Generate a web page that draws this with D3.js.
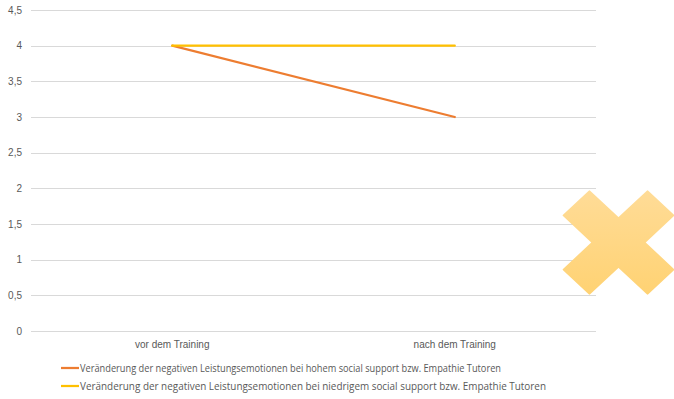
<!DOCTYPE html>
<html>
<head>
<meta charset="utf-8">
<script src="https://cdn.jsdelivr.net/npm/d3@7"></script>
<style>
  body { margin: 0; background: #fff; }
  svg { display: block; font-family: "Open Sans", "Liberation Sans", sans-serif; }
</style>
</head>
<body>
<svg id="chart" width="674" height="399"></svg>
<script>
// Kategorien und Reihen
const categories = ["vor dem Training", "nach dem Training"];
const seriesNames = [
  "Veränderung der negativen Leistungsemotionen bei hohem social support bzw. Empathie Tutoren",
  "Veränderung der negativen Leistungsemotionen bei niedrigem social support bzw. Empathie Tutoren"
];
const hohemValues = [4, 3];
const niedrigemValues = [4, 4];
const yTicks = [0, 0.5, 1, 1.5, 2, 2.5, 3, 3.5, 4, 4.5];
const seriesColors = ["#ED7D31", "#FFC000"];

const series = [
  { name: seriesNames[0], values: hohemValues, color: seriesColors[0] },
  { name: seriesNames[1], values: niedrigemValues, color: seriesColors[1] }
];

const svg = d3.select("#chart");
const plot = { left: 31, right: 596, top: 10, bottom: 331 };

const x = d3.scaleBand().domain(categories).range([plot.left, plot.right]);
const y = d3.scaleLinear().domain([0, 4.5]).range([plot.bottom, plot.top]);
const fmt = d => d3.format("~g")(d).replace(".", ",");

// Gitterlinien
svg.append("g")
  .selectAll("line").data(yTicks).join("line")
  .attr("x1", plot.left).attr("x2", plot.right)
  .attr("y1", d => Math.round(y(d)) + 0.5).attr("y2", d => Math.round(y(d)) + 0.5)
  .attr("stroke", "#d9d9d9").attr("stroke-width", 1);

// Y-Achse
const yAxis = svg.append("g")
  .attr("transform", `translate(${plot.left - 9},0)`)
  .call(d3.axisLeft(y).tickValues(yTicks).tickFormat(fmt).tickSize(0).tickPadding(0));
yAxis.select(".domain").remove();
yAxis.selectAll("text").attr("fill", "#595959").style("font-size", "10px");

// X-Achse
const xAxis = svg.append("g")
  .attr("transform", `translate(0,${plot.bottom + 10})`)
  .call(d3.axisBottom(x).tickSize(0).tickPadding(0));
xAxis.select(".domain").remove();
xAxis.selectAll("text").attr("fill", "#595959").style("font-size", "10px");

// Linien
const line = d3.line()
  .x((d, i) => x(categories[i]) + x.bandwidth() / 2)
  .y(d => y(d));

svg.append("g").selectAll("path").data(series).join("path")
  .attr("d", d => line(d.values))
  .attr("fill", "none")
  .attr("stroke", d => d.color)
  .attr("stroke-width", 2.25)
  .attr("stroke-linecap", "round");

// Legende
const legend = svg.append("g").selectAll("g").data(series).join("g")
  .attr("transform", (d, i) => `translate(61,${368 + i * 18})`);
legend.append("line")
  .attr("x1", 0).attr("x2", 18).attr("y1", 0).attr("y2", 0)
  .attr("stroke", d => d.color).attr("stroke-width", 2.25);
legend.append("text")
  .attr("x", 19).attr("y", 0).attr("dy", "0.35em")
  .attr("fill", "#595959").style("font-size", "10px")
  .attr("textLength", (d, i) => i === 0 ? 421 : 466)
  .attr("lengthAdjust", "spacingAndGlyphs")
  .text(d => d.name);

// Kreuz-Symbol mit senkrechtem Farbverlauf (im gedrehten Koordinatensystem)
const defs = svg.append("defs");
const grad = defs.append("linearGradient").attr("id", "crossGrad")
  .attr("gradientUnits", "userSpaceOnUse")
  .attr("x1", -40).attr("y1", -40).attr("x2", 40).attr("y2", 40);
grad.append("stop").attr("offset", "0%").attr("stop-color", "#FFDC98");
grad.append("stop").attr("offset", "100%").attr("stop-color", "#FFD272");

const L = 57, W = 17.5;
const arm = [[-L, -W], [-W, -W], [-W, -L], [W, -L], [W, -W], [L, -W], [L, W], [W, W], [W, L], [-W, L], [-W, W], [-L, W]];
const cross = svg.append("g").attr("transform", "translate(618.5,242.5) scale(1.04,0.97) rotate(45)");
cross.append("path")
  .attr("d", d3.line().curve(d3.curveLinearClosed)(arm))
  .attr("fill", "url(#crossGrad)")
  .attr("stroke", "url(#crossGrad)").attr("stroke-width", 2).attr("stroke-linejoin", "round");
</script>
</body>
</html>
